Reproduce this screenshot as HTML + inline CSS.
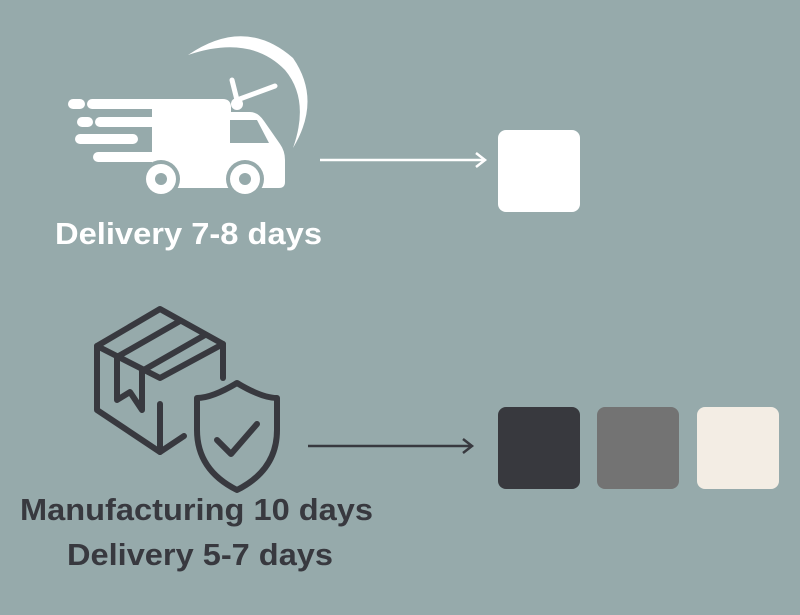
<!DOCTYPE html>
<html><head><style>
body{margin:0;width:800px;height:615px;background:#96aaab;overflow:hidden}
svg{display:block}
text{font-family:"Liberation Sans",sans-serif;font-weight:bold}
</style></head><body>
<svg width="800" height="615" viewBox="0 0 800 615">
<rect width="800" height="615" fill="#96aaab"/>
<!-- clock arc -->
<path d="M188 55 Q245 16 293 58 Q322 100 293 148 Q310 100 285 70 Q250 34 188 55 Z" fill="#fff"/>
<line x1="237" y1="100" x2="232" y2="80" stroke="#fff" stroke-width="5" stroke-linecap="round"/>
<line x1="237" y1="100" x2="275" y2="86" stroke="#fff" stroke-width="5" stroke-linecap="round"/>
<circle cx="237" cy="104" r="6" fill="#fff"/>
<!-- speed lines -->
<g stroke="#fff" stroke-width="10" stroke-linecap="round">
<line x1="73" y1="104" x2="80" y2="104"/><line x1="92" y1="104" x2="160" y2="104"/>
<line x1="82" y1="122" x2="88" y2="122"/><line x1="100" y1="122" x2="160" y2="122"/>
<line x1="80" y1="139" x2="133" y2="139"/>
<line x1="98" y1="157" x2="160" y2="157"/>
</g>
<!-- truck body -->
<path d="M158 99 H223 Q230 99 231 106 L231 112 H250 Q258 112 264 121 L280 144 Q285 151 285 160 V182 Q285 188 279 188 H158 Q152 188 152 182 V105 Q152 99 158 99 Z" fill="#fff"/>
<path d="M230 120 H257 L269 143 H230 Z" fill="#96aaab"/>
<circle cx="161" cy="179" r="19" fill="#96aaab"/><circle cx="161" cy="179" r="15" fill="#fff"/><circle cx="161" cy="179" r="6" fill="#96aaab"/>
<circle cx="245" cy="179" r="19" fill="#96aaab"/><circle cx="245" cy="179" r="15" fill="#fff"/><circle cx="245" cy="179" r="6" fill="#96aaab"/>
<text x="55" y="244" fill="#fff" font-size="31" textLength="267" lengthAdjust="spacingAndGlyphs">Delivery 7-8 days</text>
<line x1="320" y1="160" x2="484" y2="160" stroke="#fff" stroke-width="2.5"/>
<path d="M476 153 L485 160 L476 167" fill="none" stroke="#fff" stroke-width="2.5"/>
<rect x="498" y="130" width="82" height="82" rx="8" fill="#fff"/>
<!-- box -->
<g fill="none" stroke="#38393f" stroke-width="6" stroke-linejoin="round" stroke-linecap="round">
<path d="M160 309 L223 344 L160 378 L97 346 Z"/>
<path d="M97 346 V410 L160 452 V404"/>
<path d="M223 344 V378"/>
<path d="M160 452 L184 436"/>
<path d="M117 357 L180 321"/>
<path d="M142 371 L205 335"/>
<path d="M117 357 V400 L130 392 L142 410 V371"/>
<path d="M237 383 Q212 398 197 398 V430 Q197 470 237 490 Q277 470 277 430 V398 Q262 398 237 383 Z"/>
<path d="M217 440 L231 454 L257 424"/>
</g>
<text x="20" y="520" fill="#38393f" font-size="31" textLength="353" lengthAdjust="spacingAndGlyphs">Manufacturing 10 days</text>
<text x="67" y="565" fill="#38393f" font-size="31" textLength="266" lengthAdjust="spacingAndGlyphs">Delivery 5-7 days</text>
<line x1="308" y1="446" x2="471" y2="446" stroke="#38393f" stroke-width="2.5"/>
<path d="M463 439 L472 446 L463 453" fill="none" stroke="#38393f" stroke-width="2.5"/>
<rect x="498" y="407" width="82" height="82" rx="8" fill="#38393e"/>
<rect x="597" y="407" width="82" height="82" rx="8" fill="#737373"/>
<rect x="697" y="407" width="82" height="82" rx="8" fill="#f3ede4"/>
</svg>
</body></html>
